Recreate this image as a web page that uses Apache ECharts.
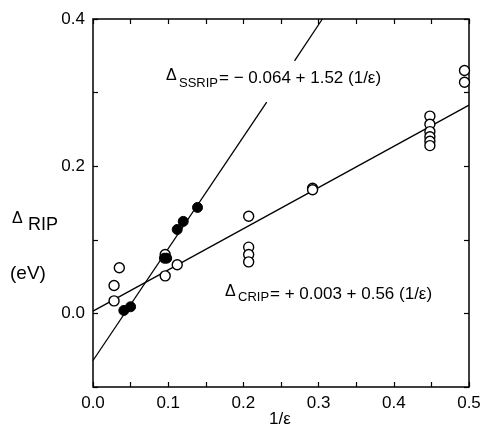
<!DOCTYPE html>
<html>
<head>
<meta charset="utf-8">
<script src="https://cdn.jsdelivr.net/npm/echarts@6/dist/echarts.min.js"></script>
<style>
  html, body { margin: 0; padding: 0; background: #fff; }
  #chart { width: 484px; height: 435px; }
</style>
</head>
<body>
<div id="chart"></div>
<script>
// open circles: CRIP points
const cripPoints = [
  [0.028, 0.017], [0.028, 0.038], [0.035, 0.062],
  [0.096, 0.051], [0.096, 0.080], [0.112, 0.066],
  [0.207, 0.132], [0.207, 0.090], [0.207, 0.080], [0.207, 0.070],
  [0.292, 0.170], [0.292, 0.168],
  [0.448, 0.268], [0.448, 0.257], [0.448, 0.247], [0.448, 0.240], [0.448, 0.234], [0.448, 0.228],
  [0.494, 0.330], [0.494, 0.314]
]
// filled circles: SSRIP points
const ssripPoints = [
  [0.041, 0.004], [0.050, 0.009],
  [0.095, 0.075], [0.098, 0.075],
  [0.112, 0.114], [0.120, 0.125], [0.139, 0.144]
]
// fitted lines (the SSRIP one is broken where its label sits)
const ssripLineA = [[0, -0.064], [0.231, 0.287]]
const ssripLineB = [[0.268, 0.343], [0.305, 0.4]]
const cripLine = [[0, 0.003], [0.5, 0.283]]

const xTicks = [0, 0.1, 0.2, 0.3, 0.4, 0.5]
const yLabelled = [0, 0.2, 0.4]

const font = 'Liberation Sans'
const ink = '#000'

function lineSeries(data) {
  return {
    type: 'line',
    data: data,
    symbol: 'none',
    silent: true,
    lineStyle: { color: ink, width: 1.3 },
    z: 2
  }
}

function txt(x, y, s, size) {
  return {
    type: 'text',
    left: x,
    top: y - size / 2,
    style: { text: s, fontSize: size, fontFamily: font, fill: ink }
  }
}

const chart = echarts.init(document.getElementById('chart'))

const tickStyle = { show: true, inside: true, length: 5, lineStyle: { color: ink, width: 1.2 } }
const minorStyle = { show: true, splitNumber: 2, length: 5, lineStyle: { color: ink, width: 1.2 } }
const noLine = { show: false, onZero: false }

chart.setOption({
  animation: false,
  backgroundColor: '#fff',
  grid: {
    left: 93, right: 15, top: 19, bottom: 48,
    show: true, borderColor: ink, borderWidth: 1.5, backgroundColor: 'transparent'
  },
  xAxis: [
    {
      type: 'value', min: 0, max: 0.5, interval: 0.1, position: 'bottom',
      axisLine: noLine,
      axisTick: tickStyle,
      minorTick: minorStyle,
      splitLine: { show: false },
      axisLabel: {
        color: ink, fontSize: 17, fontFamily: font, margin: 8,
        formatter: v => xTicks.some(t => Math.abs(t - v) < 1e-6) ? v.toFixed(1) : ''
      }
    },
    {
      type: 'value', min: 0, max: 0.5, interval: 0.1, position: 'top',
      axisLine: noLine,
      axisTick: tickStyle,
      minorTick: minorStyle,
      splitLine: { show: false },
      axisLabel: { show: false }
    }
  ],
  yAxis: [
    {
      type: 'value', min: -0.1, max: 0.4, interval: 0.1, position: 'left',
      axisLine: noLine,
      axisTick: tickStyle,
      splitLine: { show: false },
      axisLabel: {
        color: ink, fontSize: 17, fontFamily: font, margin: 8,
        formatter: v => yLabelled.some(t => Math.abs(t - v) < 1e-6) ? v.toFixed(1) : ''
      }
    },
    {
      type: 'value', min: -0.1, max: 0.4, interval: 0.1, position: 'right',
      axisLine: noLine,
      axisTick: tickStyle,
      splitLine: { show: false },
      axisLabel: { show: false }
    }
  ],
  series: [
    lineSeries(ssripLineA),
    lineSeries(ssripLineB),
    lineSeries(cripLine),
    {
      type: 'scatter',
      data: cripPoints,
      symbol: 'circle',
      symbolSize: 10,
      itemStyle: { color: '#fff', borderColor: ink, borderWidth: 1.4, opacity: 1 },
      z: 3
    },
    {
      type: 'scatter',
      data: ssripPoints,
      symbol: 'circle',
      symbolSize: 10,
      itemStyle: { color: ink, borderColor: ink, borderWidth: 1, opacity: 1 },
      z: 4
    }
  ],
  graphic: [
    // y axis title
    txt(12, 219, 'Δ', 16),
    txt(28, 225, 'RIP', 18),
    txt(10, 274, '(eV)', 19),
    // x axis title
    txt(269, 419, '1/ε', 17),
    // SSRIP equation
    txt(166, 76, 'Δ', 16),
    txt(179, 83, 'SSRIP', 13),
    txt(219, 78, '= − 0.064 + 1.52 (1/ε)', 17),
    // CRIP equation
    txt(225, 292, 'Δ', 16),
    txt(238, 297, 'CRIP', 13),
    txt(270, 294, '= + 0.003 + 0.56 (1/ε)', 17)
  ]
})
</script>
</body>
</html>
